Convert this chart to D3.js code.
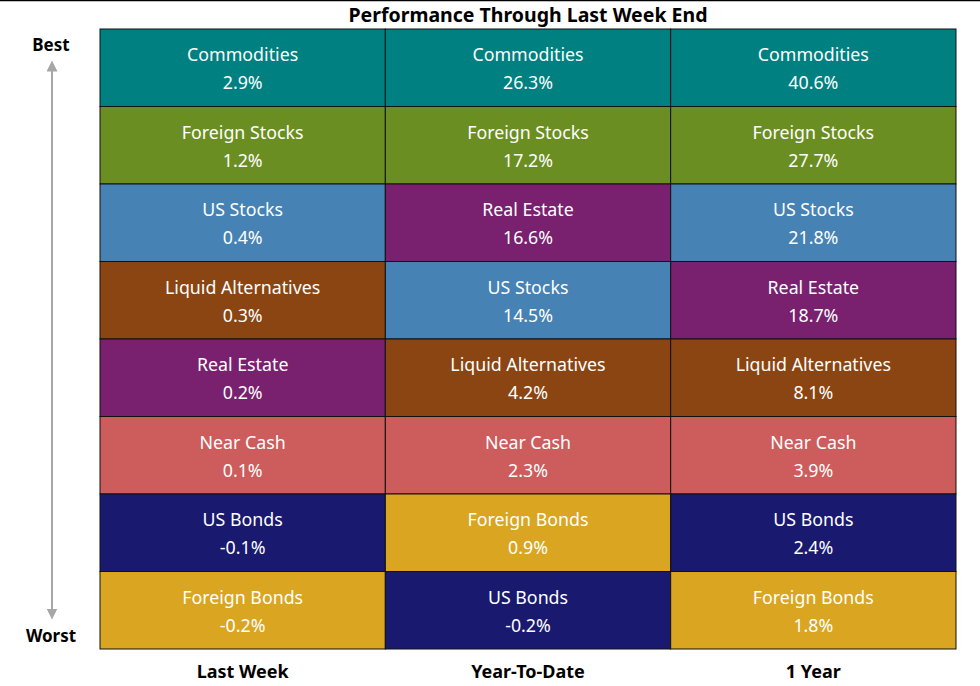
<!DOCTYPE html>
<html lang="en">
<head>
<meta charset="UTF-8">
<title>Performance Through Last Week End</title>
<script src="https://d3js.org/d3.v7.min.js"></script>
<style>
    body, html { margin: 0; padding: 0; background: #fff; }
    #chart { width: 980px; height: 686px; }
    text { font-family: "Noto Sans", "DejaVu Sans", sans-serif; }
</style>
</head>
<body>
<div id="chart"></div>
<script>
// periods (columns) and ranked assets per period, best to worst
const periods = ["Last Week", "Year-To-Date", "1 Year"];
const lastWeekAssets = ["Commodities", "Foreign Stocks", "US Stocks", "Liquid Alternatives", "Real Estate", "Near Cash", "US Bonds", "Foreign Bonds"];
const lastWeekValues = [2.9, 1.2, 0.4, 0.3, 0.2, 0.1, -0.1, -0.2];
const ytdAssets = ["Commodities", "Foreign Stocks", "Real Estate", "US Stocks", "Liquid Alternatives", "Near Cash", "Foreign Bonds", "US Bonds"];
const ytdValues = [26.3, 17.2, 16.6, 14.5, 4.2, 2.3, 0.9, -0.2];
const oneYearAssets = ["Commodities", "Foreign Stocks", "US Stocks", "Real Estate", "Liquid Alternatives", "Near Cash", "US Bonds", "Foreign Bonds"];
const oneYearValues = [40.6, 27.7, 21.8, 18.7, 8.1, 3.9, 2.4, 1.8];

const assetNames = ["Commodities", "Foreign Stocks", "US Stocks", "Real Estate", "Liquid Alternatives", "Near Cash", "US Bonds", "Foreign Bonds"];
const assetColors = ["#008080", "#6b8e23", "#4682b4", "#79206e", "#8b4513", "#cd5c5c", "#191970", "#daa520"];

const columns = [
    { period: periods[0], assets: lastWeekAssets, values: lastWeekValues },
    { period: periods[1], assets: ytdAssets, values: ytdValues },
    { period: periods[2], assets: oneYearAssets, values: oneYearValues }
];

const width = 980, height = 686;
const grid = { left: 100, right: 956, top: 29, bottom: 649 };

const color = d3.scaleOrdinal().domain(assetNames).range(assetColors);
const x = d3.scaleBand().domain(periods).range([grid.left, grid.right]);
const y = d3.scaleBand().domain(d3.range(8)).range([grid.top, grid.bottom]);

const svg = d3.select("#chart").append("svg")
    .attr("width", width)
    .attr("height", height);

// top rule
svg.append("line")
    .attr("x1", 0).attr("x2", width)
    .attr("y1", 0.5).attr("y2", 0.5)
    .attr("stroke", "#000").attr("stroke-width", 1.5);

svg.append("text")
    .attr("x", (grid.left + grid.right) / 2)
    .attr("y", 22)
    .attr("text-anchor", "middle")
    .style("font-size", "19.5px")
    .style("font-weight", "bold")
    .text("Performance Through Last Week End");

const cells = [];
columns.forEach(c => c.assets.forEach((a, i) => cells.push({ period: c.period, asset: a, value: c.values[i], rank: i })));

const cell = svg.append("g").selectAll("g")
    .data(cells)
    .enter().append("g")
    .attr("transform", d => `translate(${x(d.period)},${y(d.rank)})`);

cell.append("rect")
    .attr("width", x.bandwidth())
    .attr("height", y.bandwidth())
    .attr("fill", d => color(d.asset))
    .attr("stroke", "#111")
    .attr("stroke-width", 1);

cell.append("text")
    .attr("x", x.bandwidth() / 2)
    .attr("y", 32)
    .attr("text-anchor", "middle")
    .attr("fill", "#fff")
    .style("font-size", "17.8px")
    .text(d => d.asset);

cell.append("text")
    .attr("x", x.bandwidth() / 2)
    .attr("y", 60)
    .attr("text-anchor", "middle")
    .attr("fill", "#fff")
    .style("font-size", "17.8px")
    .text(d => d.value.toFixed(1) + "%");

// column labels
svg.append("g").selectAll("text")
    .data(periods)
    .enter().append("text")
    .attr("x", d => x(d) + x.bandwidth() / 2)
    .attr("y", 678)
    .attr("text-anchor", "middle")
    .style("font-size", "18px")
    .style("font-weight", "bold")
    .text(d => d);

// best / worst arrow
const defs = svg.append("defs");
["up", "down"].forEach(id => {
    defs.append("marker")
        .attr("id", "arrow-" + id)
        .attr("viewBox", "0 0 10 10")
        .attr("refX", 5).attr("refY", 5)
        .attr("markerWidth", 5.5).attr("markerHeight", 5.5)
        .attr("orient", "auto")
        .append("path")
        .attr("d", "M0,0 L10,5 L0,10 Z")
        .attr("fill", "#a6a6a6");
});

svg.append("line")
    .attr("x1", 52).attr("x2", 52)
    .attr("y1", 336).attr("y2", 66)
    .attr("stroke", "#a6a6a6").attr("stroke-width", 2)
    .attr("marker-end", "url(#arrow-up)");
svg.append("line")
    .attr("x1", 52).attr("x2", 52)
    .attr("y1", 336).attr("y2", 614)
    .attr("stroke", "#a6a6a6").attr("stroke-width", 2)
    .attr("marker-end", "url(#arrow-down)");

svg.append("text")
    .attr("x", 51).attr("y", 51)
    .attr("text-anchor", "middle")
    .style("font-size", "17px").style("font-weight", "bold")
    .text("Best");
svg.append("text")
    .attr("x", 51).attr("y", 642)
    .attr("text-anchor", "middle")
    .style("font-size", "17px").style("font-weight", "bold")
    .text("Worst");
</script>
</body>
</html>
